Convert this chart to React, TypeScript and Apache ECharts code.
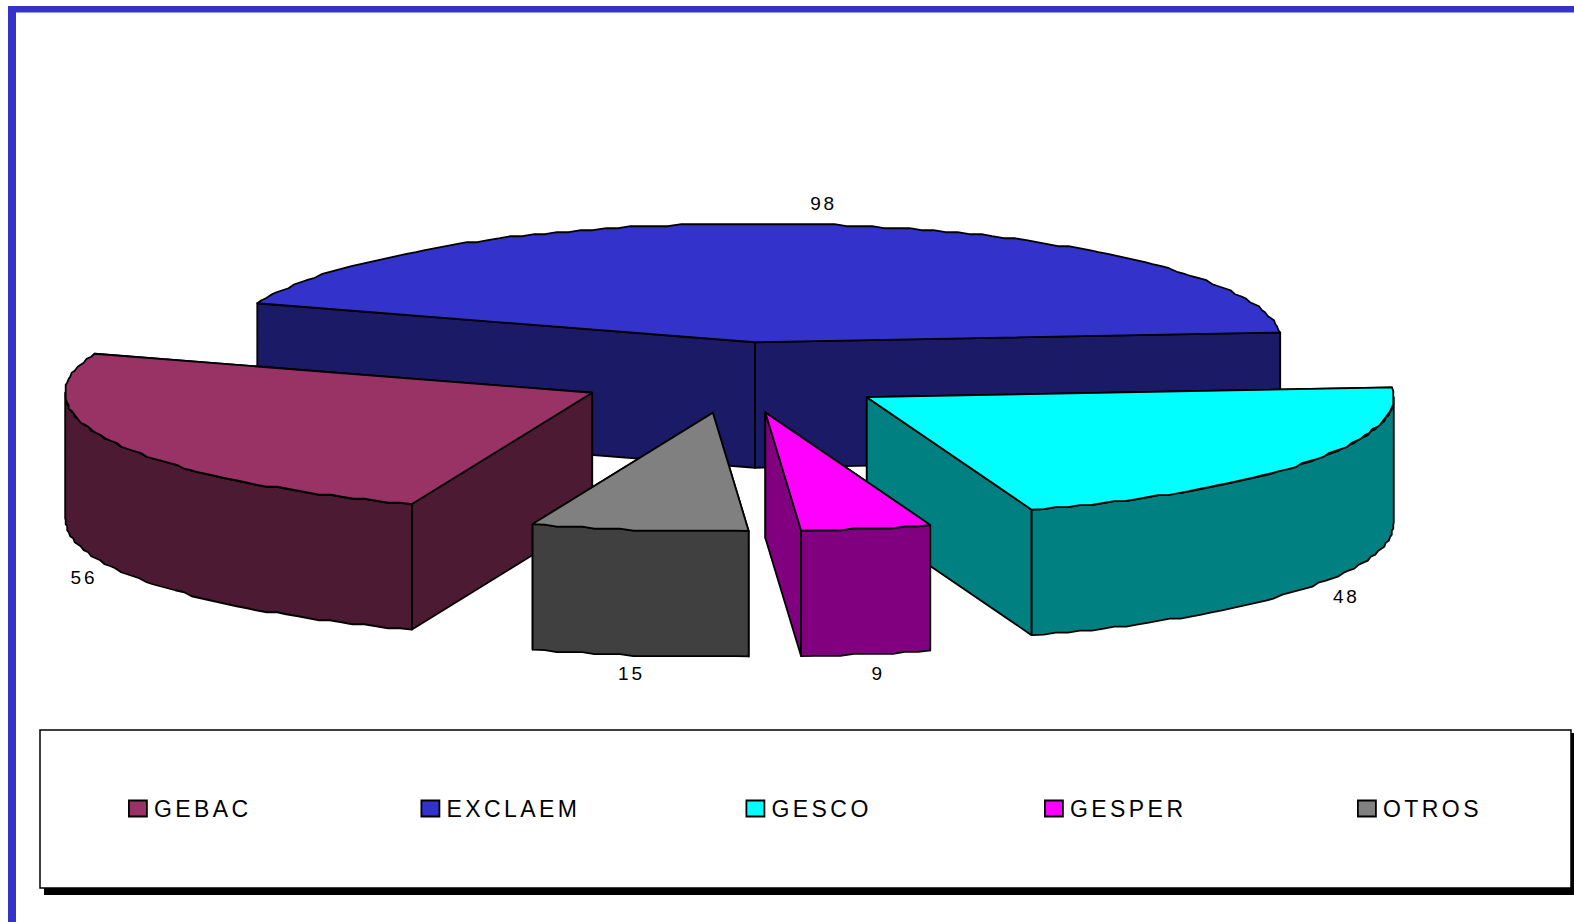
import React, { useEffect, useRef } from "react";
import * as echarts from "echarts";

// Data, in the chart's clockwise order
const categories = ["GEBAC", "EXCLAEM", "GESCO", "GESPER", "OTROS"];
const values = [56, 98, 48, 9, 15];
const topColors = ["#993366", "#3333CC", "#00FFFF", "#FF00FF", "#808080"];
const sideColors = ["#4D1A33", "#1A1A66", "#008080", "#800080", "#404040"];

// Styles and layout
const drawOrder = ["EXCLAEM", "GEBAC", "GESCO", "OTROS", "GESPER"];
const legendLefts = [128, 420.5, 745.5, 1044, 1357];
const FONT = '"Liberation Sans", Arial, sans-serif';
const PIE = { cx: 735, cy: 377.5, a: 527, b: 118.5, h: 125.5, explode: 0.3, start: 250 };
const LABEL_NUDGE: Record<string, [number, number]> = {
  EXCLAEM: [-3, -1],
  GEBAC: [4, 0.5],
  GESCO: [7, -2],
  GESPER: [4, 1],
  OTROS: [-2, -1],
};

const total = values.reduce((s, v) => s + v, 0);
const rad = (d: number) => (d * Math.PI) / 180;

function sliceAngles(index: number) {
  let from = PIE.start;
  for (let i = 0; i < index; i++) from -= (values[i] / total) * 360;
  const to = from - (values[index] / total) * 360;
  return { from, to, mid: (from + to) / 2 };
}

const onEllipse = (deg: number): [number, number] => [
  PIE.a * Math.cos(rad(deg)),
  -PIE.b * Math.sin(rad(deg)),
];

// Points along an arc, snapped to a fine grid as in the low-resolution source drawing
function arc(from: number, to: number): [number, number][] {
  const step = 1.4;
  const n = Math.max(1, Math.round(Math.abs(to - from) / step));
  const pts: [number, number][] = [];
  for (let i = 0; i <= n; i++) {
    const d = from + ((to - from) * i) / n;
    const [x, y] = onEllipse(d);
    if (i === 0 || i === n) pts.push([x, y]);
    else pts.push([Math.round(x / 1.5) * 1.5, Math.round(y / 2) * 2]);
  }
  return pts;
}

function renderSlice(name: string) {
  const idx = categories.indexOf(name);
  const { from, to, mid } = sliceAngles(idx);
  const ox = PIE.cx + PIE.explode * PIE.a * Math.cos(rad(mid));
  const oy = PIE.cy - PIE.explode * PIE.b * Math.sin(rad(mid));
  const at = (p: [number, number], dy = 0): [number, number] => [ox + p[0], oy + p[1] + dy];
  const top = topColors[idx];
  const side = sideColors[idx];
  const stroke = { stroke: "#000", lineWidth: 1.8, lineJoin: "round" };
  const poly = (points: [number, number][], fill: string) => ({
    type: "polygon",
    shape: { points },
    style: { fill, ...stroke },
  });

  const apex: [number, number] = [0, 0];
  const wall = (deg: number) => {
    const e = onEllipse(deg);
    return { y: e[1], el: poly([at(apex), at(e), at(e, PIE.h), at(apex, PIE.h)], side) };
  };
  const inner = [wall(from), wall(to)].sort((p, q) => p.y - q.y).map((w) => w.el);

  const children: any[] = [...inner];

  // Outer wall: only the part that faces the viewer (math angles 180-360)
  const norm = (d: number) => ((d % 360) + 360) % 360;
  let lo = to;
  let hi = from;
  const shift = -Math.floor(lo / 360) * 360;
  lo += shift;
  hi += shift;
  const ranges: [number, number][] = [
    [Math.max(lo, 180), Math.min(hi, 360)],
    [Math.max(lo, 540), Math.min(hi, 720)],
  ];
  ranges.forEach(([l, h]) => {
    if (h > l) {
      const pts = arc(h, l);
      children.push(poly([...pts.map((p) => at(p)), ...pts.slice().reverse().map((p) => at(p, PIE.h))], side));
    }
  });

  children.push(poly([at(apex), ...arc(from, to).map((p) => at(p))], top));

  const c = Math.cos(rad(mid));
  const s = Math.sin(rad(mid));
  const rim = at(onEllipse(norm(mid)));
  const nudge = LABEL_NUDGE[name] || [0, 0];
  children.push({
    type: "text",
    style: {
      text: String(values[idx]),
      x: rim[0] + c * 40 + nudge[0],
      y: rim[1] + (s < 0 ? PIE.h - s * 19 : -20) + nudge[1],
      fill: "#000",
      font: `19px ${FONT}`,
      textAlign: "center",
      textVerticalAlign: "middle",
    },
  });
  return { type: "group", children };
}

export default function App() {
  const ref = useRef<HTMLDivElement>(null);
  useEffect(() => {
    const chart = echarts.init(ref.current!, null, { renderer: "svg" });
    chart.setOption({
      animation: false,
      backgroundColor: "#fff",
      legend: categories.map((name, i) => ({
        data: [name],
        left: legendLefts[i],
        top: 797,
        orient: "horizontal",
        icon: "rect",
        itemWidth: 18,
        itemHeight: 16,
        selectedMode: false,
        padding: 0,
        itemStyle: { borderColor: "#000", borderWidth: 1.8 },
        textStyle: { fontFamily: FONT, fontSize: 23, color: "#000", padding: [0, 0, 0, 2] },
      })),
      graphic: [
        { type: "rect", z: 0, shape: { x: 8, y: 6, width: 1566, height: 6.5 }, style: { fill: "#3333CC" } },
        { type: "rect", z: 0, shape: { x: 8, y: 6, width: 8, height: 916 }, style: { fill: "#3333CC" } },
        { type: "rect", z: 0, shape: { x: 44, y: 733, width: 1530, height: 162 }, style: { fill: "#000" } },
        {
          type: "rect",
          z: 1,
          shape: { x: 40, y: 730, width: 1531, height: 158 },
          style: { fill: "#fff", stroke: "#000", lineWidth: 1.5 },
        },
      ],
      series: drawOrder.map((name) => ({
        type: "custom",
        name,
        coordinateSystem: "none",
        silent: true,
        itemStyle: { color: topColors[categories.indexOf(name)] },
        data: [values[categories.indexOf(name)]],
        renderItem: () => renderSlice(name),
      })),
    });
    return () => chart.dispose();
  }, []);
  return (
    <>
      <style>{`#chart svg text { letter-spacing: 0.15em; }`}</style>
      <div id="chart" ref={ref} style={{ position: "absolute", left: 0, top: 0, width: 1574, height: 922 }} />
    </>
  );
}
